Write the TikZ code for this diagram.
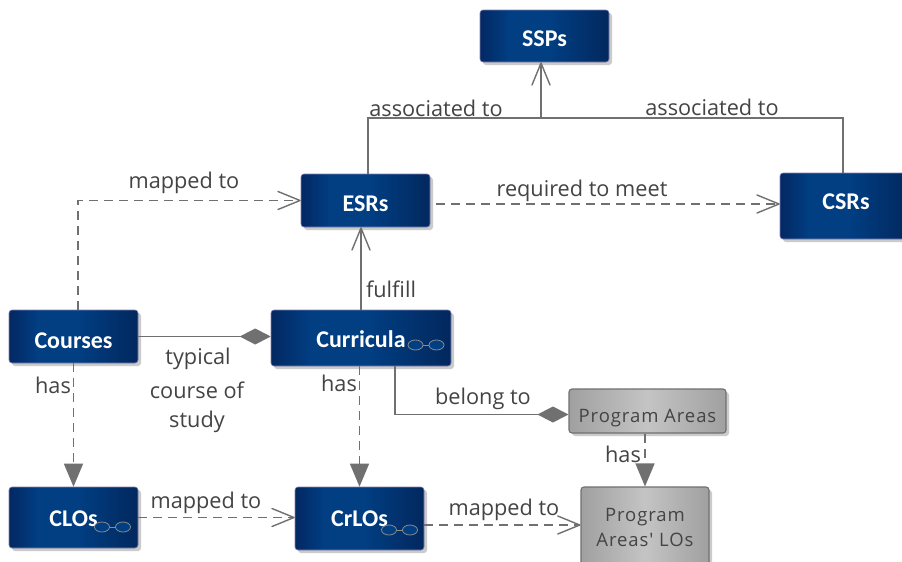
\documentclass[tikz,border=0pt]{standalone}
\usepackage{fontspec}
\setmainfont{Open Sans}
\newfontfamily\boxfont{Carlito}
\newfontfamily\greyfont[LetterSpace=5]{Open Sans}
\usetikzlibrary{arrows.meta,shadows,calc}
\definecolor{navyedge}{RGB}{3,40,98}
\definecolor{navymid}{RGB}{1,62,130}
\definecolor{navydark}{RGB}{2,40,94}
\definecolor{greyedge}{RGB}{160,160,160}
\definecolor{greymid}{RGB}{196,196,196}
\definecolor{linegrey}{RGB}{112,112,112}
\definecolor{labelgrey}{RGB}{68,68,68}
\pgfdeclarehorizontalshading{navyshade}{100bp}{color(0bp)=(navyedge);color(25bp)=(navyedge);color(36bp)=(navymid);color(52bp)=(navymid);color(75bp)=(navydark);color(100bp)=(navydark)}
\pgfdeclarehorizontalshading{greyshade}{100bp}{color(0bp)=(greyedge);color(25bp)=(greyedge);color(50bp)=(greymid);color(75bp)=(greyedge);color(100bp)=(greyedge)}
\newcommand\shifted[2]{\raisebox{\dimexpr-#1pt-.5\fontcharht\font`X\relax}[0pt][0pt]{#2}}
\tikzset{
  x=1pt,y=-1pt,
  basebox/.style={rectangle,rounded corners=3pt,inner sep=0pt,
    drop shadow={shadow xshift=3pt,shadow yshift=-3pt,fill=black!45,opacity=.45}},
  bluebox/.style={basebox,draw=black!60!blue!50!white,line width=.6pt,shading=navyshade,text=white,
    font=\boxfont\bfseries\fontsize{24}{28}\selectfont},
  greybox/.style={basebox,draw=linegrey,line width=1.1pt,shading=greyshade,text=labelgrey,align=center,
    font=\greyfont\fontsize{18.5}{25}\selectfont},
  lbl/.style={text=labelgrey,font=\fontsize{21.7}{26}\selectfont,inner sep=0pt},
  conn/.style={draw=linegrey,line width=1.4pt},
  dashconn/.style={conn,dash pattern=on 9pt off 6pt},
  openhead/.style={-{Straight Barb[length=22pt,width=18pt,line width=1.4pt,round]}},
  solidhead/.style={-{Triangle[length=23pt,width=19pt,fill=linegrey,sep=0pt]}},
  diamondhead/.style={-{Diamond[length=31pt,width=16pt,fill=linegrey]}},
  glasses/.pic={
    \draw[draw=black!45,fill=navymid,line width=.8pt] (-10.5,0) ellipse (7.5 and 5) (10.5,0) ellipse (7.5 and 5);
    \draw[draw=black!45,line width=.8pt] (-3,0) -- (3,0);
  }
}
\begin{document}
\begin{tikzpicture}
\clip (0,0) rectangle (902,562);
\fill[white] (0,0) rectangle (902,562);
% boxes
\node[bluebox,minimum width=129pt,minimum height=52pt] (ssp) at (544.5,36) {\shifted{3}{SSPs}};
\node[bluebox,minimum width=129pt,minimum height=53pt] (esr) at (365.5,200.5) {\shifted{3}{ESRs}};
\node[bluebox,minimum width=129pt,minimum height=66pt] (csr) at (844.5,206) {\shifted{-4}{\hspace*{3pt}CSRs}};
\node[bluebox,minimum width=129pt,minimum height=53pt] (courses) at (73.5,336.5) {\shifted{4}{Courses}};
\node[bluebox,minimum width=180pt,minimum height=56pt] (curricula) at (361,338) {\shifted{2}{Curricula}};
\node[bluebox,minimum width=129pt,minimum height=61pt] (clo) at (73.5,517.5) {\shifted{1}{CLOs}};
\node[bluebox,minimum width=129pt,minimum height=63pt] (crlo) at (359.5,518.5) {\shifted{0}{CrLOs}};
\node[greybox,minimum width=157pt,minimum height=44pt] (pa) at (647.5,411) {\shifted{5}{Program Areas}};
\node[greybox,minimum width=128pt,minimum height=80pt] (pal) at (645,527) {Program\\Areas' LOs};
% glasses
\pic at (426,345) {glasses};
\pic at (112.5,527) {glasses};
\pic at (399.5,530) {glasses};
% connectors
\coordinate (jssp) at (541,118);
\draw[conn] ([xshift=2.5pt]esr.north) |- (jssp);
\draw[conn] ([xshift=-1.5pt]csr.north) |- (jssp);
\draw[conn,openhead] (jssp) -- (jssp |- ssp.south);
\draw[dashconn,openhead] ([xshift=4.5pt]courses.north) |- (esr.west);
\draw[dashconn,openhead] ([yshift=-3.5pt,xshift=6pt]esr.east) -- ([yshift=-3.5pt]esr.east -| csr.west);
\draw[conn,openhead] (curricula.north) -- (curricula.north |- esr.south);
\draw[conn,diamondhead] (courses.east) -- (courses.east -| curricula.west);
\draw[dashconn,solidhead] (courses.south) -- (clo.north);
\draw[dashconn,solidhead] (curricula.south -| crlo.north) -- (crlo.north);
\draw[conn,diamondhead] ([xshift=34pt]curricula.south) |- ([yshift=-3.5pt]pa.west);
\draw[dashconn,solidhead] (pa.south -| pal.north) -- (pal.north);
\draw[dashconn,openhead] (clo.east) -- (clo.east -| crlo.west);
\draw[dashconn,openhead] ([yshift=-6.5pt]crlo.east) -- ([yshift=-6.5pt]crlo.east -| pal.west);
% labels
\node[lbl] (l1) at (184,183) {mapped to};
\node[lbl] (l2) at (436,108) {associated to};
\node[lbl] (l3) at (712,107) {associated to};
\node[lbl] (l4) at (582,191) {required to meet};
\node[lbl] (l5) at (391,289) {fulfill};
\node[lbl] (l6) at (198,359) {typical};
\node[lbl] (l7) at (197,390) {course of};
\node[lbl] (l8) at (197,422) {study};
\node[lbl] (l9) at (53,385) {has};
\node[lbl] (l10) at (339,383) {has};
\node[lbl] (l11) at (483,399) {belong to};
\node[lbl] (l12) at (623,454) {has};
\node[lbl] (l13) at (206,503) {mapped to};
\node[lbl] (l14) at (504,510) {mapped to};
\end{tikzpicture}
\end{document}
